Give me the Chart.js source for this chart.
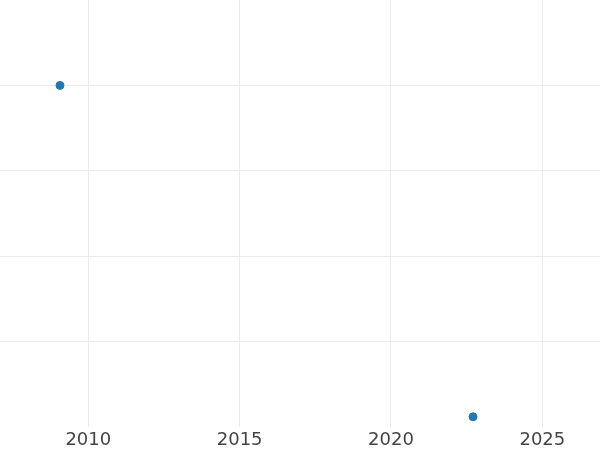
<!DOCTYPE html>
<html>
<head>
<meta charset="utf-8">
<script src="https://cdn.jsdelivr.net/npm/chart.js@4"></script>
<style>
html,body{margin:0;padding:0;background:#fff;}
#wrap{width:600px;height:450px;}
</style>
</head>
<body>
<div id="wrap"><canvas id="c"></canvas></div>
<script>
const xValues = [2009.065, 2022.71];
const yValues = [4.0, 0.12];
const xTickLabels = [2010, 2015, 2020, 2025];
const yTickValues = [0, 1, 2, 3, 4, 5];

const points = xValues.map((x, i) => ({x: x, y: yValues[i]}));

new Chart(document.getElementById('c'), {
  type: 'scatter',
  data: {
    datasets: [{
      data: points,
      backgroundColor: '#1f77b4',
      borderColor: '#1f77b4',
      pointRadius: 4,
      pointBorderWidth: 1,
      pointHoverRadius: 4,
      clip: false
    }]
  },
  options: {
    responsive: true,
    maintainAspectRatio: false,
    animation: false,
    layout: {padding: 0, autoPadding: false},
    plugins: {legend: {display: false}, tooltip: {enabled: false}},
    scales: {
      x: {
        type: 'linear',
        min: 2007.083,
        max: 2026.905,
        afterBuildTicks: (axis) => { axis.ticks = xTickLabels.map(v => ({value: v})); },
        afterFit: (axis) => { axis.height = 23; },
        ticks: {
          padding: 3,
          color: '#444444',
          font: {family: 'DejaVu Sans', size: 18},
          callback: (v) => String(v),
          maxRotation: 0,
          autoSkip: false
        },
        grid: {color: '#ebebeb', lineWidth: 1, drawTicks: false},
        border: {display: false}
      },
      y: {
        type: 'linear',
        min: 0,
        max: 5,
        afterBuildTicks: (axis) => { axis.ticks = yTickValues.map(v => ({value: v})); },
        afterFit: (axis) => { axis.width = 0; },
        ticks: {display: false},
        grid: {
          color: (ctx) => (ctx.tick && (ctx.tick.value === 0 || ctx.tick.value === 5)) ? 'rgba(0,0,0,0)' : '#ebebeb',
          lineWidth: 1,
          drawTicks: false
        },
        border: {display: false}
      }
    }
  }
});
</script>
</body>
</html>
